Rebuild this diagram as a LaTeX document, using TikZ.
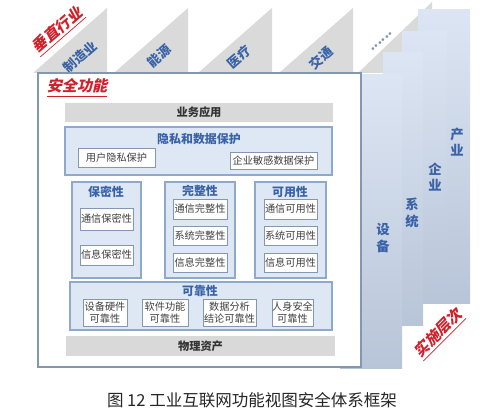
\documentclass[tikz,border=0pt]{standalone}
\usepackage{fontspec}
\setmainfont{Noto Sans CJK SC}
\newfontfamily\slantfont[FakeSlant=0.22]{Noto Sans CJK SC}
\usetikzlibrary{fit}

\definecolor{trigrey}{HTML}{DADADA}
\definecolor{bargrey}{HTML}{D9D9D9}
\definecolor{frameline}{HTML}{8497B0}
\definecolor{panelblue}{HTML}{DDE8F4}
\definecolor{panelline}{HTML}{8FA9CC}
\definecolor{titleblue}{HTML}{3A62A7}
\definecolor{itemtext}{HTML}{404040}
\definecolor{labelred}{HTML}{D0202A}
\definecolor{coltop}{HTML}{DCE5F3}
\definecolor{colbot}{HTML}{B8C5D8}

\begin{document}
\begin{tikzpicture}[x=0.02cm,y=-0.02cm,
    panel/.style={draw=panelline,fill=panelblue,line width=0.6pt,inner sep=0pt},
    item/.style={draw=frameline,fill=white,line width=0.5pt,inner sep=0pt},
    itemtext/.style={font=\fontsize{5.8}{6.9}\selectfont,text=itemtext,align=center},
    bar/.style={fill=bargrey,inner sep=0pt},
    bartext/.style={font=\bfseries\fontsize{6.4}{7.5}\selectfont,text=black!80},
    title/.style={font=\bfseries\fontsize{6.8}{8}\selectfont,text=titleblue},
    sector/.style={rotate=41,font=\bfseries\fontsize{7.4}{9}\selectfont,text=titleblue},
    level/.style={font=\bfseries\fontsize{7.6}{9.5}\selectfont,text=titleblue,align=center},
    redlabel/.style={font=\slantfont\bfseries\fontsize{8.6}{10}\selectfont,text=labelred}]
  \useasboundingbox (0,0) rectangle (499,415);

  % vertical sectors
  \foreach \r/\t in {107/8,188/8,272/8,353/8,432/2}
    \fill[trigrey] (\r-74,73) -- (\r,\t) -- (\r,73) -- cycle;
  \node[redlabel,rotate=41] (vertical) at (58,31) {\underline{垂直行业}};
  \node[sector] (manuf) at (80,57) {制造业};
  \node[sector] (energy) at (159,56) {能源};
  \node[sector] (medic) at (239,57) {医疗};
  \node[sector] (traffic) at (321,58) {交通};
  \node[sector,text=frameline] (more) at (382,42) {......};

  % implementation levels
  \shade[top color=coltop,bottom color=colbot] (418,10) rectangle (470,303);
  \shade[top color=coltop,bottom color=colbot] (402,32) rectangle (447,303);
  \shade[top color=coltop,bottom color=colbot] (383,53) rectangle (423,325);
  \shade[top color=coltop,bottom color=colbot] (340,75) rectangle (402,368);
  \node[level] (industry) at (457,142) {产\\业};
  \node[level] (enterprise) at (435,177) {企\\业};
  \node[level] (system) at (412,213) {系\\统};
  \node[level] (device) at (383,238) {设\\备};
  \node[redlabel,rotate=45] (impl) at (439,334) {\underline{实施层次}};

  % security functions
  \node[draw=frameline,fill=white,line width=0.7pt,inner sep=0pt,
        fit={(38,73) (361,367)}] (frame) {};
  \node[redlabel] (secfunc) at (77,88) {\underline{安全功能}};
  \node[bar,fit={(65,103) (333,122)},label={[bartext]center:业务应用}] (business) {};

  \node[panel,fit={(65,127) (332,175)}] (privacy) {};
  \node[title] (privtitle) at (199,139) {隐私和数据保护};
  \node[item,fit={(78,148) (155,167)},label={[itemtext]center:用户隐私保护}] (userpriv) {};
  \node[item,fit={(230,152) (317,169)},label={[itemtext]center:企业敏感数据保护}] (entpriv) {};

  \node[panel,fit={(72,182) (141,278)}] (confid) {};
  \node[title] (conftitle) at (106,192) {保密性};
  \node[item,fit={(80,208) (133,230)},label={[itemtext]center:通信保密性}] (commconf) {};
  \node[item,fit={(80,245) (133,265)},label={[itemtext]center:信息保密性}] (infoconf) {};

  \node[panel,fit={(165,182) (235,278)}] (integ) {};
  \node[title] (integtitle) at (200,191) {完整性};
  \node[item,fit={(173,199) (227,219)},label={[itemtext]center:通信完整性}] (comminteg) {};
  \node[item,fit={(173,226) (227,245)},label={[itemtext]center:系统完整性}] (sysinteg) {};
  \node[item,fit={(173,253) (227,272)},label={[itemtext]center:信息完整性}] (infointeg) {};

  \node[panel,fit={(255,182) (326,278)}] (avail) {};
  \node[title] (availtitle) at (290,192) {可用性};
  \node[item,fit={(264,199) (317,219)},label={[itemtext]center:通信可用性}] (commavail) {};
  \node[item,fit={(264,226) (317,245)},label={[itemtext]center:系统可用性}] (sysavail) {};
  \node[item,fit={(264,253) (317,272)},label={[itemtext]center:信息可用性}] (infoavail) {};

  \node[panel,fit={(70,282) (332,330)}] (reliab) {};
  \node[title] (reltitle) at (200,291) {可靠性};
  \node[item,fit={(83,299) (127,326)},label={[itemtext]center:{设备硬件\\可靠性}}] (hwrel) {};
  \node[item,fit={(142,299) (188,326)},label={[itemtext]center:{软件功能\\可靠性}}] (swrel) {};
  \node[item,fit={(203,299) (256,326)},label={[itemtext]center:{数据分析\\结论可靠性}}] (datarel) {};
  \node[item,fit={(272,299) (313,326)},label={[itemtext]center:{人身安全\\可靠性}}] (safetyrel) {};

  \node[bar,fit={(66,336) (335,356)},label={[bartext]center:物理资产}] (physical) {};

  \node[font=\fontsize{9.4}{11}\selectfont,text=black!85] (caption) at (252,400)
    {图 12\ 工业互联网功能视图安全体系框架};
\end{tikzpicture}
\end{document}
